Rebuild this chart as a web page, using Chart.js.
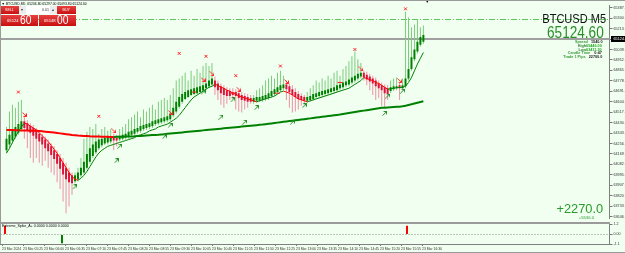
<!DOCTYPE html>
<html><head><meta charset="utf-8">
<script src="https://cdn.jsdelivr.net/npm/chart.js@4.4.1/dist/chart.umd.min.js"></script>
<style>
html,body{margin:0;padding:0;background:#f0fff0;width:625px;height:253px;overflow:hidden;}
body{position:relative;font-family:"Liberation Sans",Arial,sans-serif;}
canvas{position:absolute;left:0;}
#cA{top:0;} #cB{top:222px;}
.t{position:absolute;white-space:nowrap;line-height:1;}
.box{position:absolute;}
.red{background:linear-gradient(#e84040,#c81010);}
.r{transform-origin:right top;}
.l{transform-origin:left top;}
</style></head><body>
<canvas id="cA" width="625" height="223"></canvas>
<canvas id="cB" width="625" height="31"></canvas>

<div class="box" style="left:0;top:0;width:625px;height:1px;background:#9a9a9a"></div>
<div class="box" style="left:0;top:0;width:1px;height:244px;background:#9a9a9a"></div>
<div class="box" style="left:0;top:222px;width:610px;height:2px;background:#9a9a9a"></div>
<div class="box" style="left:0;top:252px;width:625px;height:1px;background:#9a9a9a"></div>

<div class="t" style="left:1.5px;top:2.6px;font-size:3.4px;color:#000">▼ BTCUSD,M5&nbsp; 65206.80 65297.00 65093.80 65124.60</div>
<div class="t" style="left:425.5px;top:0.5px;font-size:3.5px;color:#000">▼</div>

<!-- one click trading panel -->
<div class="box red" style="left:1px;top:6px;width:18px;height:8px"></div>
<div class="box" style="left:19px;top:6px;width:7px;height:8px;background:#ececec"></div>
<div class="box" style="left:26px;top:6px;width:24px;height:8px;background:#ffffff"></div>
<div class="box" style="left:50px;top:6px;width:7px;height:8px;background:#ececec"></div>
<div class="box red" style="left:57px;top:6px;width:19px;height:8px"></div>
<div class="box red" style="left:1px;top:15px;width:37px;height:11px"></div>
<div class="box red" style="left:38.5px;top:15px;width:37.5px;height:11px"></div>
<div class="t" style="left:5px;top:8.6px;font-size:3.6px;color:#fff">SELL</div>
<div class="t" style="left:21px;top:8.2px;font-size:4px;color:#333">▾</div>
<div class="t" style="left:42px;top:8.6px;font-size:3.6px;color:#333">0.01</div>
<div class="t" style="left:52px;top:8.2px;font-size:4px;color:#333">▴</div>
<div class="t" style="left:62.5px;top:8.6px;font-size:3.6px;color:#fff">BUY</div>
<div class="t" style="left:7px;top:18.6px;font-size:4.2px;color:#fff">65124</div>
<div class="t l" style="left:20px;top:14.4px;font-size:12.5px;color:#fff;transform:scaleX(0.82)">60</div>
<div class="t" style="left:44px;top:18.6px;font-size:4.2px;color:#fff">65148</div>
<div class="t l" style="left:56.5px;top:14.4px;font-size:12.5px;color:#fff;transform:scaleX(0.82)">00</div>

<!-- right info -->
<div class="t r" style="right:19px;top:12.3px;font-size:13px;color:#111;transform:scaleX(0.85)">BTCUSD M5</div>
<div class="t r" style="right:21px;top:24.9px;font-size:16px;color:#2a8f2a;transform:scaleX(0.85)">65124.60</div>
<div class="t r" style="right:23px;top:40.4px;font-size:4.2px;font-weight:bold;color:#3a9a3a;transform:scaleX(0.9)">Spread&nbsp;&nbsp; <span style="color:#222">1540.0</span></div>
<div class="t r" style="right:23px;top:44.1px;font-size:4.2px;font-weight:bold;color:#2e7d2e;transform:scaleX(0.9)">High<span style="color:#22aa22">65446.00</span></div>
<div class="t r" style="right:23px;top:47.7px;font-size:4.2px;font-weight:bold;color:#2e7d2e;transform:scaleX(0.9)">Low<span style="color:#22aa22">63411.20</span></div>
<div class="t r" style="right:23px;top:51.4px;font-size:4.2px;font-weight:bold;color:#3a9a3a;transform:scaleX(0.9)">Candle Time&nbsp;&nbsp;&nbsp; <span style="color:#222">0:47</span></div>
<div class="t r" style="right:23px;top:55.1px;font-size:4.2px;font-weight:bold;color:#3a9a3a;transform:scaleX(0.9)">Trade 1 Pips&nbsp;&nbsp; <span style="color:#222">22700.0</span></div>
<div class="t r" style="right:22px;top:202.2px;font-size:13.5px;color:#2a9a2a;transform:scaleX(0.95)">+2270.0</div>
<div class="t r" style="right:31px;top:215.5px;font-size:4.2px;color:#2a9a2a">+5536.0</div>

<div class="t" style="left:2px;top:224.6px;font-size:3.6px;color:#000">Extreme_Spike_A+ 0.0000 0.0000 0.0000</div>

<script>
// ---------- data ----------
const N_SLOTS = 203;          // bar slots across the window (incl. right shift)
const LABEL_EVERY = 7;        // one time label every 7 bars
const timeLabels = ["23 Mar 2024","23 Mar 05:25","23 Mar 06:00","23 Mar 06:35","23 Mar 07:10","23 Mar 07:45","23 Mar 08:20","23 Mar 08:55","23 Mar 09:30","23 Mar 10:05","23 Mar 10:40","23 Mar 11:15","23 Mar 11:50","23 Mar 12:25","23 Mar 13:00","23 Mar 13:35","23 Mar 14:10","23 Mar 14:45","23 Mar 15:20","23 Mar 15:55","23 Mar 16:30"];

const open = [64200,64249,64281,64313,64346,64378,64442,64426,64402,64386,
 64362,64337,64313,64289,64257,64233,64200,64168,64136,64095,
 64055,64015,63991,63942,63958,63991,64015,64055,64104,64152,
 64184,64216,64241,64257,64265,64273,64313,64305,64289,64297,
 64305,64313,64329,64337,64354,64362,64378,64386,64394,64402,
 64418,64426,64434,64442,64450,64459,64491,64523,64563,64604,
 64628,64644,64660,64668,64676,64685,64701,64717,64733,64749,
 64781,64757,64733,64717,64701,64693,64685,64685,64676,64660,
 64652,64644,64636,64604,64612,64612,64620,64628,64636,64652,
 64668,64685,64701,64717,64749,64733,64709,64685,64668,64652,
 64644,64612,64620,64628,64644,64652,64660,64668,64676,64685,
 64693,64701,64717,64725,64741,64749,64765,64781,64798,64814,
 64846,64830,64814,64798,64781,64757,64741,64725,64717,64693,
 64709,64717,64741,64717,64733,64798,64878,64959,65023,65080,
 65104];
const high = [64394,64523,64580,64555,64604,64620,64475,64450,64426,64410,
 64386,64362,64337,64313,64289,64257,64233,64200,64168,64136,
 64095,64055,64015,64015,64055,64136,64297,64354,64394,64378,
 64418,64337,64378,64394,64362,64378,64337,64329,64378,64394,
 64418,64459,64475,64499,64523,64475,64539,64523,64555,64580,
 64539,64604,64620,64636,64620,64660,64717,64781,64798,64822,
 64846,64781,64862,64822,64878,64846,64902,64927,64902,64927,
 64814,64781,64757,64741,64725,64717,64717,64709,64701,64685,
 64676,64668,64660,64660,64701,64717,64741,64781,64798,64822,
 64798,64846,64862,64822,64781,64757,64741,64717,64693,64676,
 64660,64685,64717,64741,64781,64765,64798,64781,64822,64798,
 64846,64862,64822,64878,64902,64943,64983,65023,64959,64927,
 64862,64854,64838,64822,64806,64781,64765,64749,64741,64781,
 64798,64806,64765,64798,65354,65306,65225,65249,65290,65225,
 65241];
const low = [64176,64216,64257,64297,64329,64362,64297,64216,64136,64095,
 64136,64095,64071,64112,64055,64015,63991,63934,63878,63773,
 63676,63732,63829,63926,63942,63974,63999,64039,64087,64136,
 64168,64200,64225,64241,64249,64257,64200,64233,64273,64281,
 64289,64297,64313,64321,64337,64346,64362,64370,64378,64386,
 64402,64410,64418,64426,64434,64442,64475,64507,64547,64588,
 64620,64636,64652,64660,64668,64676,64685,64701,64717,64733,
 64660,64620,64580,64555,64588,64620,64636,64539,64523,64515,
 64539,64555,64588,64588,64596,64604,64604,64612,64620,64636,
 64652,64668,64685,64701,64620,64555,64515,64523,64539,64572,
 64588,64596,64604,64612,64628,64636,64644,64652,64660,64668,
 64676,64685,64701,64709,64725,64733,64749,64765,64781,64798,
 64781,64741,64701,64660,64620,64636,64572,64555,64620,64676,
 64693,64701,64620,64701,64717,64781,64862,64943,65007,65064,
 65088];
const close = [64297,64329,64362,64394,64418,64442,64386,64370,64346,64321,
 64297,64273,64249,64216,64192,64160,64128,64087,64047,63999,
 63958,63934,63926,63991,64015,64055,64104,64168,64216,64249,
 64273,64289,64297,64305,64313,64313,64281,64281,64321,64329,
 64337,64354,64362,64378,64386,64402,64410,64418,64426,64442,
 64450,64459,64467,64475,64483,64507,64555,64604,64644,64668,
 64685,64701,64709,64717,64725,64733,64741,64757,64781,64798,
 64725,64701,64676,64660,64652,64652,64660,64652,64636,64620,
 64612,64604,64604,64636,64644,64644,64652,64660,64676,64693,
 64709,64725,64741,64749,64709,64685,64660,64644,64628,64620,
 64612,64644,64652,64668,64676,64685,64693,64701,64709,64717,
 64725,64741,64749,64765,64773,64789,64806,64822,64838,64846,
 64806,64789,64773,64757,64733,64717,64701,64676,64668,64725,
 64733,64733,64717,64741,64798,64878,64975,65040,65104,65145,
 65161];
const fastMA = [64176,64216,64265,64313,64354,64394,64426,64418,64402,64386,
 64370,64346,64321,64297,64273,64241,64208,64176,64136,64095,
 64055,64015,63982,63958,63950,63966,63991,64023,64063,64104,
 64144,64176,64200,64216,64233,64241,64249,64257,64265,64273,
 64281,64289,64297,64305,64321,64329,64337,64346,64362,64370,
 64378,64394,64402,64410,64418,64434,64450,64467,64491,64523,
 64555,64588,64620,64644,64660,64676,64693,64709,64725,64733,
 64749,64741,64725,64717,64701,64693,64676,64668,64652,64644,
 64636,64628,64620,64612,64604,64612,64620,64628,64636,64644,
 64652,64668,64685,64693,64685,64676,64660,64644,64628,64620,
 64612,64604,64612,64620,64628,64636,64644,64652,64660,64668,
 64676,64685,64693,64701,64709,64717,64733,64749,64765,64781,
 64806,64798,64789,64781,64765,64757,64741,64725,64709,64713,
 64717,64721,64723,64725,64733,64765,64806,64862,64919,64967,
 65015];
const slowMA = [64369.8,64369.0,64368.2,64367.4,64366.6,64365.8,64365.0,64364.2,64363.4,64362.6,
 64361.8,64360.1,64357.7,64355.3,64352.9,64350.5,64347.2,64344.0,64340.8,64337.6,
 64334.3,64331.1,64327.9,64325.4,64323.0,64321.4,64319.8,64318.2,64316.6,64315.8,
 64314.9,64314.1,64313.3,64312.5,64311.7,64310.9,64310.9,64311.7,64312.5,64313.3,
 64314.1,64314.9,64315.8,64316.6,64318.2,64319.8,64321.4,64323.0,64324.6,64326.3,
 64327.9,64329.5,64331.9,64334.3,64336.8,64339.2,64341.6,64344.0,64346.4,64348.9,
 64351.3,64353.7,64356.1,64358.5,64361.0,64363.4,64365.8,64368.2,64370.6,64373.1,
 64375.5,64377.9,64380.3,64382.7,64385.2,64387.6,64390.0,64392.4,64394.8,64397.3,
 64399.7,64402.1,64404.5,64406.9,64409.4,64411.8,64414.2,64417.4,64420.7,64423.9,
 64427.1,64430.4,64433.6,64436.8,64440.0,64443.3,64446.5,64449.7,64453.0,64456.2,
 64459.4,64462.6,64465.9,64469.1,64472.3,64475.5,64478.8,64482.0,64485.2,64488.5,
 64491.7,64494.9,64498.1,64502.2,64506.2,64510.3,64514.3,64518.3,64522.4,64526.4,
 64530.4,64534.5,64538.5,64542.5,64546.6,64550.6,64553.8,64555.4,64557.0,64558.7,
 64560.3,64561.9,64563.5,64566.7,64571.6,64577.2,64582.9,64589.3,64595.8,64602.2,
 64608.7];

// signal markers (bar index, price)
const crossBars   = [4, 31, 58, 67, 77, 92, 117, 134];
const crossPrices = [64685, 64483, 65007, 64983, 64822, 64902, 65040, 65379];
const downBars    = [6, 36, 55, 66, 69, 78, 94, 119, 132];
const downPrices  = [64499, 64362, 64515, 64789, 64838, 64709, 64773, 64878, 64781];
const upBars      = [23, 37, 38, 53, 55, 66, 72, 76, 80, 84, 96, 100, 127, 128, 133];
const upPrices    = [63894, 64112, 64233, 64313, 64410, 64685, 64475, 64620, 64434, 64555, 64434, 64572, 64507, 64652, 64693];
const dashBars    = [63, 76, 91, 112];
const dashPrices  = [64685, 64676, 64676, 64765];

// indicator window spikes
const spikeUpBars = [1, 135];
const spikeUpValues = [1.0, 1.0];
const spikeDownBars = [20];
const spikeDownValues = [-1.0];

// levels and axes
const bidPrice = 65124.60;
const levelPrice = 65297.00;
const priceMin = 63635.46, priceMax = 65410.86;
const yTicks = [65387.80,65300.75,65213.70,65126.65,65039.60,64952.55,64865.50,64778.45,64691.40,64604.35,
 64517.30,64430.25,64343.20,64256.15,64169.10,64082.05,63995.00,63907.95,63820.90,63733.85,63646.80];
const indTicks = [1.2, 0, -1.1];
const indMin = -1.1, indMax = 1.2;

// ---------- styling ----------
const FONT = '"Liberation Sans", Arial, sans-serif';
Chart.defaults.font.family = FONT;
const C = {bodyG:'#008000', bodyR:'#dc143c', wickG:'#7ccc7c', wickR:'#ee90a6', maG:'#008000', maR:'#ff0000'};
const isUp = i => close[i] >= open[i];
const slopeColor = ctx => ctx.p1.parsed.y > ctx.p0.parsed.y ? C.maG : C.maR;

function mkArrow(color, up){
  const c = document.createElement('canvas'); c.width = 5; c.height = 5;
  const g = c.getContext('2d'); g.strokeStyle = color; g.lineWidth = 1; g.beginPath();
  if (up) { g.moveTo(0.5,4.5); g.lineTo(4.5,0.5); g.moveTo(1.5,0.5); g.lineTo(4.5,0.5); g.lineTo(4.5,3.5); }
  else { g.moveTo(0.5,0.5); g.lineTo(4.5,4.5); g.moveTo(4.5,1.5); g.lineTo(4.5,4.5); g.lineTo(1.5,4.5); }
  g.stroke(); return c;
}
const arrowUp = mkArrow('#1e8c1e', true);
const arrowDown = mkArrow('#ff2020', false);

const pts = (bars, vals) => bars.map((b,k) => ({x:b, y:vals[k]}));
const xScale = () => ({type:'linear', min:-0.5, max:N_SLOTS-0.5, offset:false, grid:{offset:false}});

const levelsPlugin = {
  id:'levels',
  beforeDatasetsDraw(chart){
    const {ctx, chartArea:a, scales:{y}} = chart;
    ctx.save();
    let py = Math.round(y.getPixelForValue(levelPrice)) + 0.5;
    ctx.strokeStyle = '#5cc65c'; ctx.lineWidth = 1; ctx.setLineDash([6,2,1,2]);
    ctx.beginPath(); ctx.moveTo(a.left, py); ctx.lineTo(a.right, py); ctx.stroke();
    ctx.setLineDash([]);
    py = Math.round(y.getPixelForValue(bidPrice));
    ctx.fillStyle = '#a0a0a0'; ctx.fillRect(0, py-1, a.right, 2);
    ctx.restore();
  },
  afterDraw(chart){
    const {ctx, chartArea:a, scales:{y}} = chart;
    const py = Math.round(y.getPixelForValue(bidPrice));
    ctx.save();
    ctx.fillStyle = '#000'; ctx.fillRect(Math.round(a.right)+1, py-3, 20, 6);
    ctx.fillStyle = '#fff'; ctx.font = '3.8px ' + FONT; ctx.textBaseline = 'middle';
    ctx.fillText(bidPrice.toFixed(2), a.right + 4, py);
    ctx.restore();
  }
};

// ---------- main price chart ----------
new Chart(document.getElementById('cA'), {
  type:'bar',
  data:{datasets:[
    {type:'scatter', data:pts(crossBars, crossPrices), pointStyle:'crossRot', pointRadius:2, borderColor:'#ff2020', borderWidth:1, order:0},
    {type:'scatter', data:pts(downBars, downPrices), pointStyle:arrowDown, order:0},
    {type:'scatter', data:pts(upBars, upPrices), pointStyle:arrowUp, order:0},
    {type:'scatter', data:pts(dashBars, dashPrices), pointStyle:'line', pointRadius:2.5, borderColor:'#ff2020', borderWidth:1, order:0},
    {type:'line', data:fastMA.map((v,i)=>({x:i,y:v})), borderWidth:1, pointRadius:0, segment:{borderColor:slopeColor}, borderColor:C.maG, order:1},
    {type:'line', data:slowMA.map((v,i)=>({x:i,y:v})), borderWidth:2, pointRadius:0, segment:{borderColor:slopeColor}, borderColor:C.maR, order:2},
    {type:'bar', data:open.map((o,i)=>({x:i,y:[o,close[i]]})), grouped:false, maxBarThickness:2, inflateAmount:0, borderWidth:0,
      backgroundColor:ctx => isUp(ctx.dataIndex) ? C.bodyG : C.bodyR, order:3},
    {type:'bar', data:low.map((l,i)=>({x:i,y:[l,high[i]]})), grouped:false, maxBarThickness:1, inflateAmount:0, borderWidth:0,
      backgroundColor:ctx => isUp(ctx.dataIndex) ? C.wickG : C.wickR, order:4}
  ]},
  options:{
    responsive:false, animation:false, devicePixelRatio:1, events:[],
    layout:{padding:{left:0.5, right:0.5, top:2, bottom:1}},
    plugins:{legend:{display:false}, tooltip:{enabled:false}},
    scales:{
      x:Object.assign(xScale(), {display:false}),
      y:{type:'linear', position:'right', min:priceMin, max:priceMax,
        afterFit(s){ s.width = 15; s.paddingTop = 0; s.paddingBottom = 0; },
        afterBuildTicks(s){ s.ticks = yTicks.map(v => ({value:v})); },
        ticks:{autoSkip:false, font:{size:3.7}, color:'#333', padding:1, callback:v => Number(v).toFixed(2)},
        grid:{drawOnChartArea:false, tickLength:3, tickColor:'#777', color:'#777'},
        border:{color:'#808080', width:1}}
    }
  },
  plugins:[levelsPlugin]
});

// ---------- indicator window + time axis ----------
new Chart(document.getElementById('cB'), {
  type:'bar',
  data:{datasets:[
    {data:spikeUpBars.map((b,k)=>({x:b, y:[0, spikeUpValues[k]]})), grouped:false, maxBarThickness:2, inflateAmount:0, backgroundColor:'#ff0000'},
    {data:spikeDownBars.map((b,k)=>({x:b, y:[0, spikeDownValues[k]]})), grouped:false, maxBarThickness:2, inflateAmount:0, backgroundColor:'#008000'}
  ]},
  options:{
    responsive:false, animation:false, devicePixelRatio:1, events:[],
    layout:{padding:{left:0.5, right:0.5, top:2, bottom:0}},
    plugins:{legend:{display:false}, tooltip:{enabled:false}},
    scales:{
      x:Object.assign(xScale(), {
        afterFit(s){ s.height = 9; s.paddingLeft = 0; s.paddingRight = 0; },
        afterBuildTicks(s){ s.ticks = timeLabels.map((t,k) => ({value:k*LABEL_EVERY})); },
        ticks:{autoSkip:false, maxRotation:0, minRotation:0, align:'start', font:{size:3.4}, color:'#333', padding:1,
          callback:v => timeLabels[Math.round(v/LABEL_EVERY)]},
        grid:{offset:false, drawOnChartArea:false, tickLength:2, tickColor:'#777'},
        border:{color:'#808080'}
      }),
      y:{type:'linear', position:'right', min:indMin, max:indMax,
        afterFit(s){ s.width = 15; s.paddingTop = 0; s.paddingBottom = 0; },
        afterBuildTicks(s){ s.ticks = indTicks.map(v => ({value:v})); },
        ticks:{autoSkip:false, font:{size:3.6}, color:'#333', padding:1, callback:v => v === 0 ? '0.00' : String(v)},
        grid:{color:ctx => (ctx.tick && ctx.tick.value === 0) ? '#8a8a8a' : 'rgba(0,0,0,0)', tickColor:'#777', tickLength:3},
        border:{color:'#808080', dash:[1,2]}}
    }
  }
});
</script>
</body></html>
